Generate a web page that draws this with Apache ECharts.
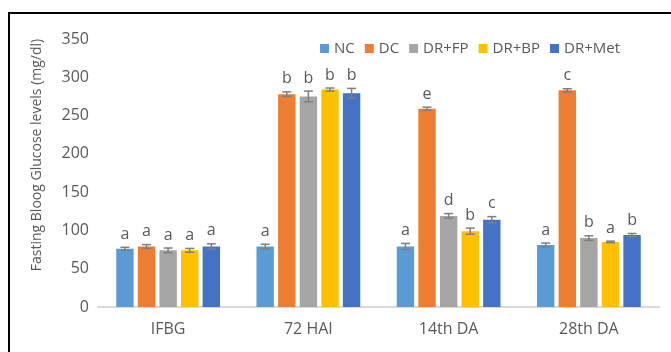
<!DOCTYPE html>
<html>
<head>
<meta charset="utf-8">
<script src="https://cdn.jsdelivr.net/npm/echarts@6/dist/echarts.min.js"></script>
<style>html,body{margin:0;padding:0;background:#fff}#c{width:671px;height:352px}</style>
</head>
<body>
<div id="c"></div>
<script>
var categories = ['IFBG', '72 HAI', '14th DA', '28th DA'];
var seriesNames = ['NC', 'DC', 'DR+FP', 'DR+BP', 'DR+Met'];
var valNC  = [76, 79, 79, 81];
var valDC  = [79, 278, 259, 283];
var valFP  = [74, 275, 119, 90];
var valBP  = [74, 284, 99, 85];
var valMet = [79, 279, 114, 94];
var errNC  = [2, 3, 4, 2.5];
var errDC  = [2.5, 3, 2, 2];
var errFP  = [3, 7, 3, 3];
var errBP  = [2.5, 2, 4, 1];
var errMet = [3.5, 6.5, 4, 2];
var letNC  = ['a', 'a', 'a', 'a'];
var letDC  = ['a', 'b', 'e', 'c'];
var letFP  = ['a', 'b', 'd', 'b'];
var letBP  = ['a', 'b', 'b', 'a'];
var letMet = ['a', 'b', 'c', 'b'];
var yTicks = [0, 50, 100, 150, 200, 250, 300, 350];

var values = [valNC, valDC, valFP, valBP, valMet];
var errors = [errNC, errDC, errFP, errBP, errMet];
var letters = [letNC, letDC, letFP, letBP, letMet];
var colors = ['#5B9BD5', '#ED7D31', '#A5A5A5', '#FFC000', '#4472C4'];
var FONT = 'Open Sans';
var TXT = '#595959';
var CATGAP = 0.26, BARGAP = 0.24, N = 5;

var chart = echarts.init(document.getElementById('c'), null, {renderer: 'canvas'});
var series = [];
seriesNames.forEach(function (name, s) {
  series.push({
    name: name, type: 'bar', data: values[s],
    barCategoryGap: (CATGAP * 100) + '%', barGap: (BARGAP * 100) + '%',
    itemStyle: {color: colors[s]}
  });
});
var errData = [];
for (var s = 0; s < N; s++) {
  for (var i = 0; i < categories.length; i++) {
    errData.push([i, values[s][i], errors[s][i], s, letters[s][i]]);
  }
}
series.push({
  type: 'custom', name: 'err', silent: true, z: 5,
  data: errData,
  encode: {x: 0, y: 1},
  renderItem: function (params, api) {
    var ci = api.value(0), v = api.value(1), e = api.value(2), s = api.value(3);
    var letter = errData[params.dataIndex][4];
    var band = api.size([1, 0])[0];
    var totalW = band * (1 - CATGAP);
    var w = totalW / (N + (N - 1) * BARGAP);
    var center = api.coord([ci, 0])[0];
    var x = center - totalW / 2 + s * w * (1 + BARGAP) + w / 2;
    var yHi = api.coord([ci, v + e])[1];
    var yLo = api.coord([ci, v - e])[1];
    var cap = 4.5;
    var st = {stroke: '#7F7F7F', lineWidth: 1.5};
    return {
      type: 'group',
      children: [
        {type: 'line', shape: {x1: x, y1: yHi, x2: x, y2: yLo}, style: st},
        {type: 'line', shape: {x1: x - cap, y1: yHi, x2: x + cap, y2: yHi}, style: st},
        {type: 'line', shape: {x1: x - cap, y1: yLo, x2: x + cap, y2: yLo}, style: st},
        {type: 'text', x: x, y: yHi - 5, style: {
          text: letter, fill: TXT, font: '16px "' + FONT + '"',
          textAlign: 'center', textVerticalAlign: 'bottom'
        }}
      ]
    };
  }
});

chart.setOption({
  animation: false,
  backgroundColor: '#fff',
  textStyle: {fontFamily: FONT},
  grid: {left: 98, right: 12, top: 39, bottom: 45, containLabel: false},
  legend: {
    data: seriesNames, right: 46, top: 36,
    itemWidth: 9, itemHeight: 9, itemGap: 10, icon: 'rect',
    textStyle: {color: TXT, fontSize: 15, fontFamily: FONT}
  },
  xAxis: {
    type: 'category', data: categories,
    axisTick: {show: false},
    axisLine: {lineStyle: {color: '#D9D9D9', width: 2}},
    axisLabel: {color: TXT, fontSize: 16, fontFamily: FONT, margin: 14}
  },
  yAxis: {
    type: 'value', min: yTicks[0], max: yTicks[yTicks.length - 1], interval: 50,
    axisLine: {show: false}, axisTick: {show: false}, splitLine: {show: false},
    axisLabel: {color: TXT, fontSize: 16, fontFamily: FONT, margin: 9}
  },
  graphic: [
    {type: 'line', shape: {x1: 8, y1: 13, x2: 671, y2: 13}, style: {stroke: '#000', lineWidth: 2}},
    {type: 'line', shape: {x1: 9, y1: 12, x2: 9, y2: 352}, style: {stroke: '#000', lineWidth: 2}},
    {type: 'text', x: 37, y: 155, rotation: Math.PI / 2, style: {
      text: 'Fasting Bloog Glucose levels (mg/dl)', fill: TXT,
      font: '14px "' + FONT + '"', textAlign: 'center', textVerticalAlign: 'middle'
    }}
  ],
  series: series
});
</script>
</body>
</html>
